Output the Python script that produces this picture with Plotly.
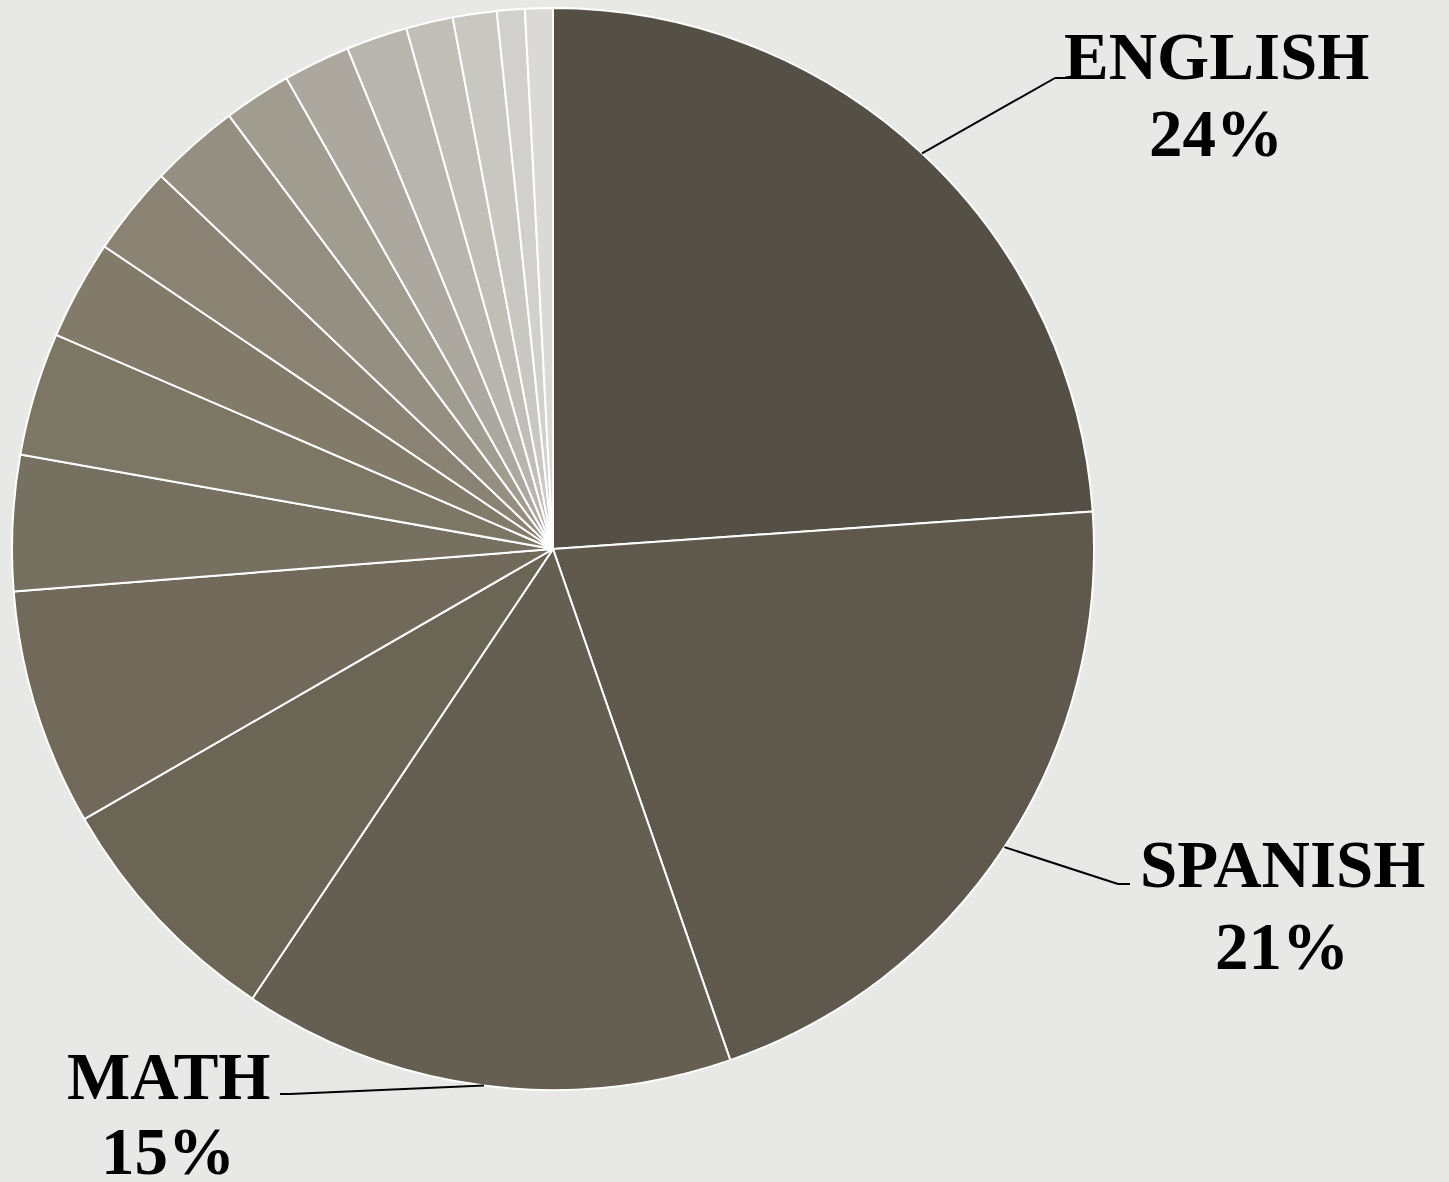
import math
import plotly.graph_objects as go

# ---- data ----
subjects = ["ENGLISH", "SPANISH", "MATH", "SCIENCE", "HISTORY", "ART", "MUSIC",
            "PHYSICAL EDUCATION", "FRENCH", "GEOGRAPHY", "COMPUTER SCIENCE",
            "BIOLOGY", "CHEMISTRY", "PHYSICS", "ECONOMICS", "PSYCHOLOGY", "OTHER"]
shares = [23.9, 20.8, 14.7, 7.3, 7.07, 4.05, 3.68, 2.97, 2.66, 2.68, 2.02,
          2.0, 1.83, 1.4, 1.31, 0.83, 0.83]
labeled = ["ENGLISH", "SPANISH", "MATH"]

# ---- styles ----
colors = ["#545045", "#5e594c", "#655f51", "#6b6555", "#716a5a", "#767060",
          "#7c7665", "#827b6a", "#8a8373", "#958f81", "#a19c90", "#aca89f",
          "#b8b5ae", "#c1beb8", "#c9c7c2", "#d2d0cc", "#dad9d5"]
W, H = 1449, 1182
CX, CY, R = 553, 549, 541
BG = "#e8e8e6"
FONT = "Liberation Serif"
FS = 67

# label layout (pixels from top-left)
label_layout = {
    "ENGLISH": dict(elbow=(1055, 78), end=(1066, 78), tx=1216, ty1=56, ty2=133),
    "SPANISH": dict(elbow=(1118, 884), end=(1130, 884), tx=1282, ty1=864, ty2=946),
    "MATH": dict(elbow=(290, 1094), end=(280, 1094), tx=168, ty1=1076, ty2=1151),
}


def px(x, y):
    return x / W, 1 - y / H


fig = go.Figure()
fig.add_trace(go.Pie(
    labels=subjects, values=shares, sort=False, direction="clockwise",
    rotation=0, textinfo="none", hoverinfo="label+percent",
    marker=dict(colors=colors, line=dict(color="white", width=2)),
    domain=dict(x=[(CX - R) / W, (CX + R) / W], y=[1 - (CY + R) / H, 1 - (CY - R) / H]),
    showlegend=False,
))

total = sum(shares)
shapes, annotations = [], []
cum = 0.0
for name, v in zip(subjects, shares):
    start = cum
    cum += v
    if name not in labeled:
        continue
    mid = (start + cum) / 2 / total * 2 * math.pi
    ex = CX + R * math.sin(mid)
    ey = CY - R * math.cos(mid)
    L = label_layout[name]
    pts = [(ex, ey), L["elbow"], L["end"]]
    for (x0, y0), (x1, y1) in zip(pts[:-1], pts[1:]):
        a0, b0 = px(x0, y0)
        a1, b1 = px(x1, y1)
        shapes.append(dict(type="line", xref="paper", yref="paper",
                           x0=a0, y0=b0, x1=a1, y1=b1,
                           line=dict(color="black", width=2)))
    pct = f"{round(v / total * 100)}%"
    for txt, ty in ((f"<b>{name}</b>", L["ty1"]), (f"<b>{pct}</b>", L["ty2"])):
        ax, ay = px(L["tx"], ty)
        annotations.append(dict(text=txt, x=ax, y=ay, xref="paper", yref="paper",
                                xanchor="center", yanchor="middle", showarrow=False,
                                font=dict(family=FONT, size=FS, color="black")))

fig.update_layout(
    width=W, height=H, margin=dict(l=0, r=0, t=0, b=0),
    paper_bgcolor=BG, plot_bgcolor=BG,
    shapes=shapes, annotations=annotations,
)
fig.write_html(
    "out.html",
    config={"displayModeBar": False},
    post_script=("document.body.style.margin='0';document.body.style.overflow='hidden';"
                 f"document.body.style.background='{BG}';"),
)
